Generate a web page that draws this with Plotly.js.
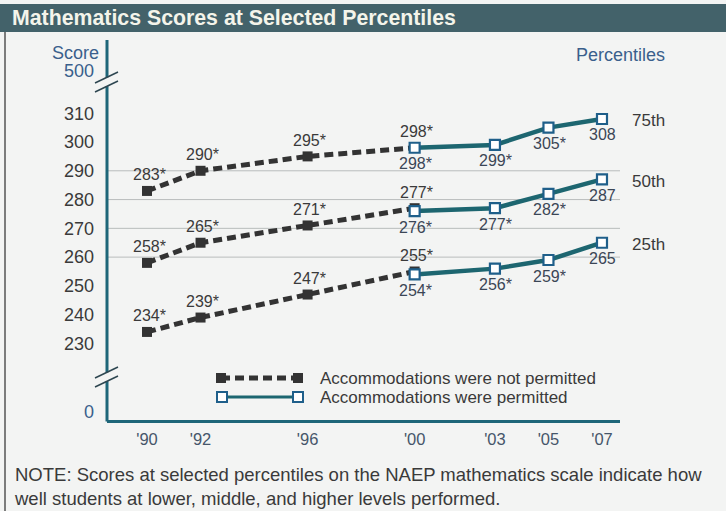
<!DOCTYPE html>
<html>
<head>
<meta charset="utf-8">
<script src="https://cdn.plot.ly/plotly-3.0.1.min.js"></script>
<style>
  html, body { margin: 0; padding: 0; background: #f3f4f3; }
  #chart { width: 726px; height: 511px; }
</style>
</head>
<body>
<div id="chart"></div>
<script>
// ---- Data ----
const yearsNotPermitted = [1990, 1992, 1996, 2000];
const yearsPermitted = [2000, 2003, 2005, 2007];
const yearTickLabels = ["'90", "'92", "'96", "'00", "'03", "'05", "'07"];
const yearTicks = [1990, 1992, 1996, 2000, 2003, 2005, 2007];

const percentiles = ["75th", "50th", "25th"];
const p75NotPermitted = [283, 290, 295, 298];
const p75Permitted = [298, 299, 305, 308];
const p50NotPermitted = [258, 265, 271, 277];
const p50Permitted = [276, 277, 282, 287];
const p25NotPermitted = [234, 239, 247, 255];
const p25Permitted = [254, 256, 259, 265];
// significance asterisks (significantly different from 2007)
const sigNotPermitted = [true, true, true, true];
const sigPermitted = [true, true, true, false];

const scoreTicks = [230, 240, 250, 260, 270, 280, 290, 300, 310];
const gridScores = [260, 270, 280, 290];

const legendNames = ["Accommodations were not permitted", "Accommodations were permitted"];

// ---- Styles / layout helpers ----
const W = 726, H = 511;
const L = 107, R = 620, T = 40, B = 420;
const px = x => (x - L) / (R - L);
const py = y => (B - y) / (B - T);
const BG = '#f3f4f3';
const NP_COLOR = '#333333';
const P_COLOR = '#1d6670';
const P_MARK = '#1f5f8a';
const AXIS_COLOR = '#1e6679';
const TEXT = '#3a3a3a';
const BLUE_TEXT = '#3a5f8c';
const FONT = 'Liberation Sans, Arial, sans-serif';

// broken-axis display positions for "0" and "500"
const zeroPos = 206.2, fiveHundredPos = 324.7;

const series = [
  [p75NotPermitted, p75Permitted],
  [p50NotPermitted, p50Permitted],
  [p25NotPermitted, p25Permitted]
];

const traces = [];
const annotations = [];
series.forEach(([np, p], i) => {
  traces.push({
    x: yearsNotPermitted, y: np, type: 'scatter', mode: 'lines+markers',
    name: legendNames[0], showlegend: false, hoverinfo: 'x+y',
    line: { color: NP_COLOR, width: 5, dash: '9px,5px' },
    marker: { symbol: 'square', size: 10, color: NP_COLOR }
  });
  traces.push({
    x: yearsPermitted, y: p, type: 'scatter', mode: 'lines+markers',
    name: legendNames[1], showlegend: false, hoverinfo: 'x+y',
    line: { color: P_COLOR, width: 4.5 },
    marker: { symbol: 'square', size: 10, color: '#ffffff', line: { color: P_MARK, width: 2.2 } }
  });
  np.forEach((v, j) => annotations.push({
    x: yearsNotPermitted[j], y: v, xref: 'x', yref: 'y',
    text: v + (sigNotPermitted[j] ? '*' : ''), showarrow: false,
    yshift: 16, xshift: 2, font: { family: FONT, size: 16, color: TEXT }
  }));
  p.forEach((v, j) => annotations.push({
    x: yearsPermitted[j], y: v, xref: 'x', yref: 'y',
    text: v + (sigPermitted[j] ? '*' : ''), showarrow: false,
    yshift: -16, xshift: 1, font: { family: FONT, size: 16, color: '#3b4656' }
  }));
  annotations.push({
    x: yearsPermitted[yearsPermitted.length - 1], y: p[p.length - 1], xref: 'x', yref: 'y',
    text: percentiles[i], showarrow: false, xanchor: 'left', xshift: 28, yshift: -2,
    font: { family: FONT, size: 17, color: TEXT }
  });
});

// Title, note, labels
annotations.push(
  { xref: 'paper', yref: 'paper', x: px(10), y: py(18.5), xanchor: 'left', yanchor: 'middle',
    text: '<b>Mathematics Scores at Selected Percentiles</b>', showarrow: false,
    font: { family: 'Liberation Sans Narrow, Arial Narrow, Liberation Sans, Arial, sans-serif', size: 21.3, color: '#f4f4ea' } },
  { xref: 'paper', yref: 'paper', x: px(75), y: py(53), xanchor: 'center', yanchor: 'middle',
    text: 'Score', showarrow: false, font: { family: FONT, size: 18, color: BLUE_TEXT } },
  { xref: 'paper', yref: 'paper', x: px(620), y: py(55), xanchor: 'center', yanchor: 'middle',
    text: 'Percentiles', showarrow: false, font: { family: FONT, size: 18, color: BLUE_TEXT } },
  { xref: 'paper', yref: 'paper', x: px(12), y: py(462), xanchor: 'left', yanchor: 'top', align: 'left',
    text: 'NOTE: Scores at selected percentiles on the NAEP mathematics scale indicate how<br>well students at lower, middle, and higher levels performed.',
    showarrow: false, font: { family: FONT, size: 18.5, color: TEXT } },
  { xref: 'paper', yref: 'paper', x: px(318), y: py(378), xanchor: 'left', yanchor: 'middle',
    text: legendNames[0], showarrow: false, font: { family: FONT, size: 17, color: TEXT } },
  { xref: 'paper', yref: 'paper', x: px(318), y: py(397), xanchor: 'left', yanchor: 'middle',
    text: legendNames[1], showarrow: false, font: { family: FONT, size: 17, color: TEXT } }
);

// Shapes: title bar, frame line, grid, broken y-axis, legend symbols
const shapes = [];
shapes.push({ type: 'rect', xref: 'paper', yref: 'paper', x0: px(0), x1: px(W), y0: py(32), y1: py(4),
  fillcolor: '#43626a', line: { width: 0 }, layer: 'below' });
shapes.push({ type: 'line', xref: 'paper', yref: 'paper', x0: px(5), x1: px(5), y0: py(32), y1: py(H),
  line: { color: '#555555', width: 1.5 } });
gridScores.forEach(g => shapes.push({ type: 'line', xref: 'paper', yref: 'y', x0: 0, x1: 1, y0: g, y1: g,
  line: { color: '#b9bcbc', width: 1 }, layer: 'below' }));

// y-axis line segments with breaks
const axLine = { color: AXIS_COLOR, width: 3 };
const slope = 11 / 23;
const topBreak1 = 83, topBreak2 = 92, botBreak1 = 378, botBreak2 = 387;
const atAxis = (yLeft) => yLeft - slope * (L - 95);
shapes.push({ type: 'line', xref: 'paper', yref: 'paper', x0: 0, x1: 0, y0: py(T), y1: py(atAxis(topBreak1)), line: axLine });
shapes.push({ type: 'line', xref: 'paper', yref: 'paper', x0: 0, x1: 0, y0: py(atAxis(topBreak2)), y1: py(atAxis(botBreak1)), line: axLine });
shapes.push({ type: 'line', xref: 'paper', yref: 'paper', x0: 0, x1: 0, y0: py(atAxis(botBreak2)), y1: py(B + 1.5), line: axLine });
[topBreak1, topBreak2, botBreak1, botBreak2].forEach(yb => shapes.push({
  type: 'line', xref: 'paper', yref: 'paper', x0: px(95), x1: px(118), y0: py(yb), y1: py(yb - 11),
  line: { color: '#2d4650', width: 1.5 } }));

// legend symbols
shapes.push({ type: 'line', xref: 'paper', yref: 'paper', x0: px(221), x1: px(298), y0: py(378), y1: py(378),
  line: { color: NP_COLOR, width: 5, dash: '9px,5px' } });
[221, 298].forEach(xx => shapes.push({ type: 'rect', xref: 'paper', yref: 'paper',
  x0: px(xx - 5), x1: px(xx + 5), y0: py(383), y1: py(373), fillcolor: NP_COLOR, line: { width: 0 } }));
shapes.push({ type: 'line', xref: 'paper', yref: 'paper', x0: px(222), x1: px(298), y0: py(397), y1: py(397),
  line: { color: P_COLOR, width: 3 } });
[222, 298].forEach(xx => shapes.push({ type: 'rect', xref: 'paper', yref: 'paper',
  x0: px(xx - 5), x1: px(xx + 5), y0: py(402), y1: py(392), fillcolor: '#ffffff', line: { color: P_MARK, width: 2 } }));

const layout = {
  width: W, height: H,
  margin: { l: L, r: W - R, t: T, b: H - B, pad: 0 },
  paper_bgcolor: BG, plot_bgcolor: BG,
  showlegend: false,
  font: { family: FONT, color: TEXT },
  xaxis: {
    range: [1988.505, 2007.673], tickvals: yearTicks, ticktext: yearTickLabels,
    showgrid: false, zeroline: false, showline: true, linecolor: AXIS_COLOR, linewidth: 3,
    ticks: '', ticklabelstandoff: 2, tickfont: { family: FONT, size: 16.5, color: '#46566a' }, fixedrange: true
  },
  yaxis: {
    range: [203.4, 335.45],
    tickvals: [zeroPos].concat(scoreTicks, [fiveHundredPos]),
    ticktext: ['<span style="color:' + BLUE_TEXT + '">0</span>'].concat(scoreTicks.map(String), ['<span style="color:' + BLUE_TEXT + '">500</span>']),
    showgrid: false, zeroline: false, showline: false, ticks: '', ticklabelstandoff: 12,
    tickfont: { family: FONT, size: 18, color: TEXT }, fixedrange: true
  },
  shapes: shapes,
  annotations: annotations
};

Plotly.newPlot('chart', traces, layout, { staticPlot: true, displayModeBar: false });
</script>
</body>
</html>
